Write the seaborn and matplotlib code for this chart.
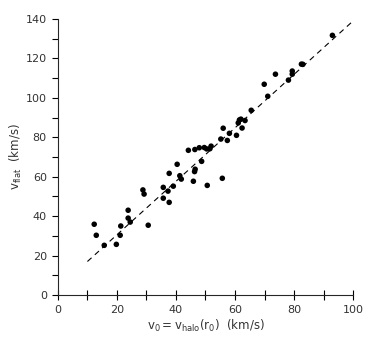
import numpy as np
import pandas as pd
import seaborn as sns
import matplotlib.pyplot as plt
from matplotlib.ticker import MultipleLocator

# points
v0 = [12.3, 13.0, 15.7, 19.8, 21.1, 21.3, 23.8, 23.8, 24.5, 28.8, 29.2, 30.6,
      35.7, 37.3, 35.7, 37.7, 39.1, 37.7, 40.4, 41.3, 41.8, 45.9, 46.3, 46.5,
      48.7, 50.6, 55.7, 44.2, 46.4, 47.9, 49.6, 50.4, 51.5, 51.9, 55.2, 56.0,
      57.4, 58.1, 60.5, 61.1, 61.5, 62.0, 63.4, 62.4, 65.5, 69.9, 71.1, 73.7,
      78.1, 79.4, 79.4, 82.5, 83.0, 93.0]
vflat = [35.9, 30.3, 25.2, 25.7, 30.3, 35.0, 43.0, 39.0, 37.0, 53.3, 51.2, 35.4,
         54.6, 52.7, 49.1, 47.0, 55.2, 61.7, 66.3, 60.5, 58.8, 57.7, 62.6, 63.8,
         67.8, 55.6, 59.2, 73.4, 73.8, 74.7, 74.8, 74.1, 74.2, 75.5, 79.1, 84.6,
         78.4, 82.0, 81.0, 87.3, 88.8, 89.2, 88.5, 84.7, 93.7, 106.9, 100.8, 112.0,
         109.0, 113.6, 112.0, 117.1, 117.0, 131.7]

line_x = [10, 100]
line_y = [17, 139]

df = pd.DataFrame({'v0': v0, 'vflat': vflat})

sns.set_style('ticks')
plt.rcParams['font.family'] = ['DejaVu Sans']
plt.rcParams['font.size'] = 8

fig = plt.figure(figsize=(3.76, 3.44), dpi=100)
ax = fig.add_axes([0.154, 0.1424, 0.785, 0.8024])

sns.scatterplot(data=df, x='v0', y='vflat', color='black', s=16,
                edgecolor='none', ax=ax, zorder=3)
sns.lineplot(x=line_x, y=line_y, color='black', lw=0.8,
             linestyle=(0, (5, 4)), ax=ax)

ax.set_xlim(0, 100)
ax.set_ylim(0, 140)
ax.xaxis.set_major_locator(MultipleLocator(20))
ax.xaxis.set_minor_locator(MultipleLocator(10))
ax.yaxis.set_major_locator(MultipleLocator(20))
ax.yaxis.set_minor_locator(MultipleLocator(10))
ax.tick_params(axis='x', which='both', direction='inout', length=7, width=0.8,
               colors='black', labelcolor='#333333', labelsize=8)
ax.tick_params(axis='y', which='both', direction='out', length=4.5, width=0.8,
               colors='black', labelcolor='#333333', labelsize=8)
sns.despine(ax=ax)
ax.spines['left'].set_linewidth(0.8)
ax.spines['bottom'].set_linewidth(0.8)

ax.set_xlabel(r'$\mathregular{v_0 = v_{halo}(r_0)}$  (km/s)', fontsize=8.5,
              color='#333333', labelpad=2)
ax.set_ylabel(r'$\mathregular{v_{flat}}$  (km/s)', fontsize=8.5,
              color='#333333', labelpad=1)

fig.savefig('out.png', dpi=100)
